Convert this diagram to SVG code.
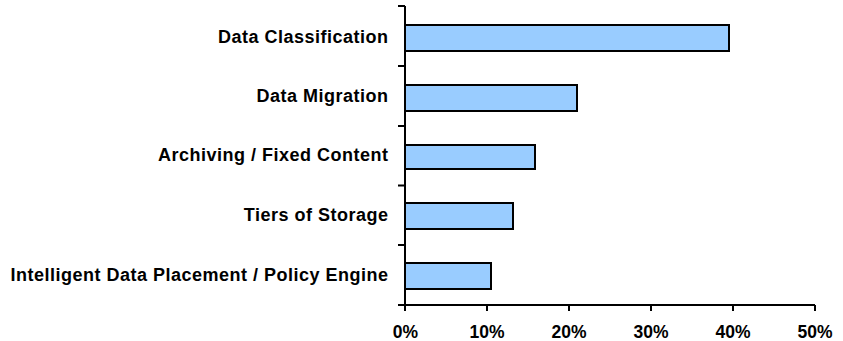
<svg xmlns="http://www.w3.org/2000/svg" width="843" height="341" viewBox="0 0 843 341">
<style>
.lbl{font-family:"Liberation Sans",Arial,sans-serif;font-weight:bold;font-size:18px;letter-spacing:0.5px;fill:#000;text-anchor:end}
.tk{font-family:"Liberation Sans",Arial,sans-serif;font-weight:bold;font-size:17.5px;fill:#000;text-anchor:middle}
.bar{fill:#99CCFF;stroke:#000;stroke-width:2}
.ax{stroke:#000;stroke-width:2;fill:none}
</style>
<rect width="843" height="341" fill="#fff"/>
<g id="bars">
<g id="bar-data-classification"><rect class="bar" x="405" y="25" width="324" height="26"/><text class="lbl" x="388.5" y="42.5">Data Classification</text></g>
<g id="bar-data-migration"><rect class="bar" x="405" y="85" width="172" height="26"/><text class="lbl" x="388.5" y="102">Data Migration</text></g>
<g id="bar-archiving"><rect class="bar" x="405" y="145" width="130" height="24"/><text class="lbl" x="388.5" y="161">Archiving / Fixed Content</text></g>
<g id="bar-tiers"><rect class="bar" x="405" y="203" width="108" height="26"/><text class="lbl" x="388.5" y="220.5">Tiers of Storage</text></g>
<g id="bar-intelligent"><rect class="bar" x="405" y="263" width="86" height="26"/><text class="lbl" x="388.5" y="280.5">Intelligent Data Placement / Policy Engine</text></g>
</g>
<g id="axes">
<path class="ax" d="M405 6V305M398 6H405M398 66H405M398 126H405M398 185.5H405M398 245H405M398 305H815M405 305V311M487 305V311M569 305V311M651 305V311M733 305V311M815 305V311"/>
<text class="tk" x="405.5" y="338">0%</text>
<text class="tk" x="487" y="338">10%</text>
<text class="tk" x="569" y="338">20%</text>
<text class="tk" x="651" y="338">30%</text>
<text class="tk" x="733" y="338">40%</text>
<text class="tk" x="815" y="338">50%</text>
</g>
</svg>
